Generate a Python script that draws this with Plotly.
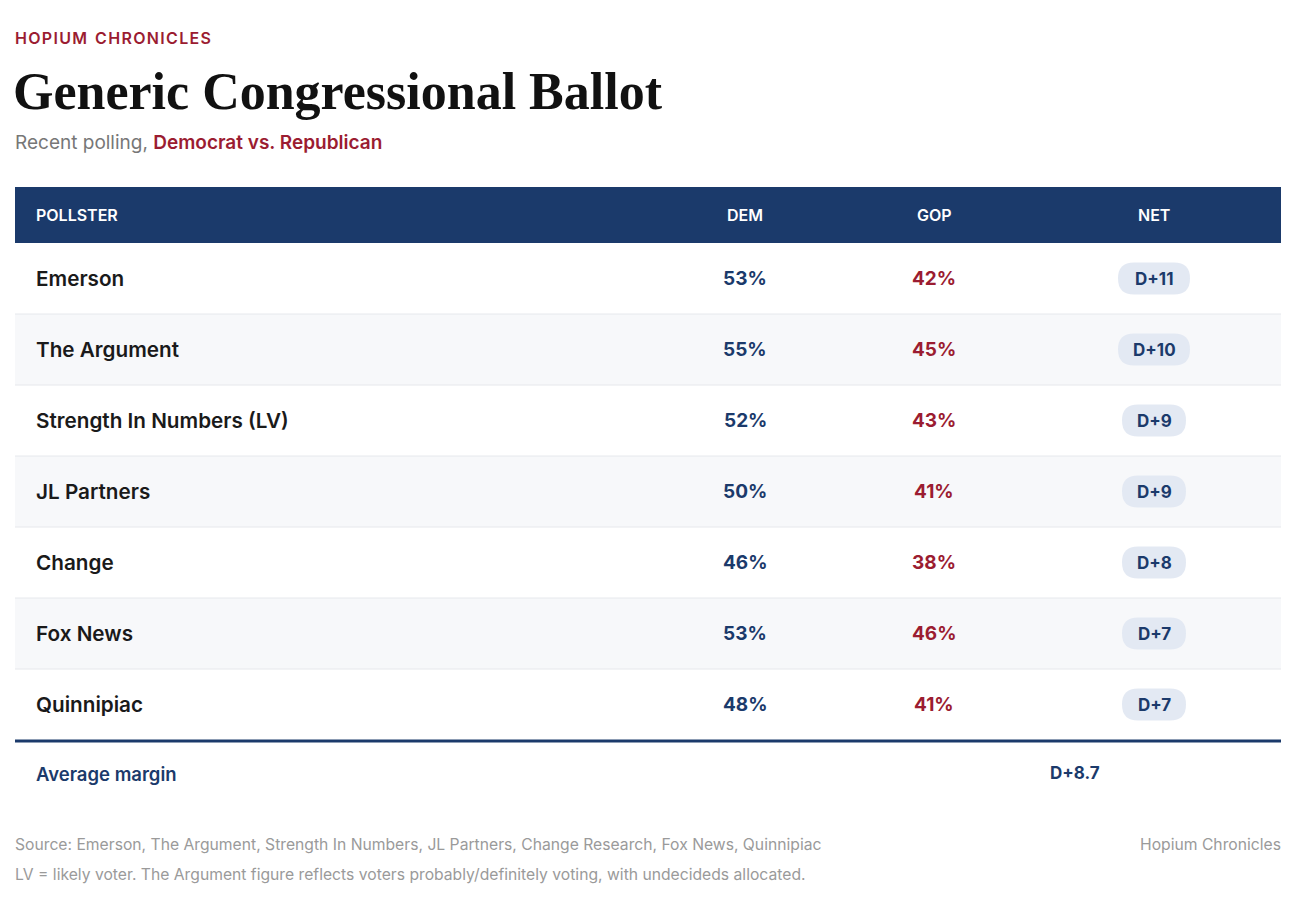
import plotly.graph_objects as go

pollsters = ["Emerson", "The Argument", "Strength In Numbers (LV)", "JL Partners",
             "Change", "Fox News", "Quinnipiac"]
dem = [53, 55, 52, 50, 46, 53, 48]
gop = [42, 45, 43, 41, 38, 46, 41]
net = ["D+11", "D+10", "D+9", "D+9", "D+8", "D+7", "D+7"]
avg_margin = "D+8.7"

NAVY = "#1b3a6b"
RED = "#9b1c31"
FONT = "Inter"

W, H = 1311, 921
OFF = 8  # page body margin
L, R = 15, 1281
HEAD_TOP, HEAD_BOT = 187, 243
ROW_H = 71
X_DEM, X_GOP, X_NET = 745, 934, 1154

fig = go.Figure()
shapes = []
ann = []

def text(x, y, s, size, color, anchor="left", family=FONT, weight=400):
    # annotations carry ~2px padding; compensate for left/right anchors
    dx = {"left": -2, "right": 2, "center": 0}[anchor]
    ann.append(dict(x=x + dx, y=y, xref="x", yref="y", text=s, showarrow=False,
                    xanchor=anchor, yanchor="middle",
                    font=dict(size=size, color=color, family=family, weight=weight)))

text(L, 38, "H O P I U M   C H R O N I C L E S".replace("   ", "\u2002").replace(" ", "\u200a"),
     16, RED, weight=600)
text(13, 91, "Generic Congressional Ballot", 52, "#111111",
     family="Liberation Serif", weight=700)
text(L, 142, f"Recent polling, <span style='color:{RED};font-weight:600'>Democrat vs. Republican</span>",
     19, "#777777")

shapes.append(dict(type="rect", xref="x", yref="y", x0=L, x1=R, y0=HEAD_TOP, y1=HEAD_BOT,
                   fillcolor=NAVY, line_width=0, layer="below"))
hy = (HEAD_TOP + HEAD_BOT) / 2
text(36, hy, "POLLSTER", 16, "white", weight=600)
text(X_DEM, hy, "DEM", 16, "white", "center", weight=600)
text(X_GOP, hy, "GOP", 16, "white", "center", weight=600)
text(X_NET, hy, "NET", 16, "white", "center", weight=600)

def pill(cx, cy, w, h):
    r = h / 2
    x0, x1, y0, y1 = cx - w / 2, cx + w / 2, cy - h / 2, cy + h / 2
    return (f"M {x0+r},{y0} L {x1-r},{y0} Q {x1},{y0} {x1},{cy} Q {x1},{y1} {x1-r},{y1} "
            f"L {x0+r},{y1} Q {x0},{y1} {x0},{cy} Q {x0},{y0} {x0+r},{y0} Z")

for i, name in enumerate(pollsters):
    y0 = HEAD_BOT + i * ROW_H
    y1 = y0 + ROW_H
    cy = (y0 + y1) / 2
    if i % 2 == 1:
        shapes.append(dict(type="rect", xref="x", yref="y", x0=L, x1=R, y0=y0, y1=y1,
                           fillcolor="#f7f8fa", line_width=0, layer="below"))
    if i < len(pollsters) - 1:
        shapes.append(dict(type="line", xref="x", yref="y", x0=L, x1=R, y0=y1, y1=y1,
                           line=dict(color="#e6e8ec", width=1)))
    text(36, cy, name, 20.7, "#1a1a1a", weight=600)
    text(X_DEM, cy, f"{dem[i]}%", 19, NAVY, "center", weight=700)
    text(X_GOP, cy, f"{gop[i]}%", 19, RED, "center", weight=700)
    pw = 40 + 8 * len(net[i])
    shapes.append(dict(type="path", xref="x", yref="y", path=pill(X_NET, cy, pw, 32),
                       fillcolor="#e3e9f3", line_width=0, layer="below"))
    text(X_NET, cy, net[i], 17, NAVY, "center", weight=700)

bottom = HEAD_BOT + len(pollsters) * ROW_H
shapes.append(dict(type="line", xref="x", yref="y", x0=L, x1=R, y0=bottom + 1, y1=bottom + 1,
                   line=dict(color=NAVY, width=3)))
text(36, 774, "Average margin", 18.5, NAVY, weight=600)
text(1075, 773, avg_margin, 17, NAVY, "center", weight=700)

text(L, 844, "Source: Emerson, The Argument, Strength In Numbers, JL Partners, Change Research, Fox News, Quinnipiac",
     15.7, "#9a9a9a")
text(R, 844, "Hopium Chronicles", 15.7, "#9a9a9a", "right")
text(L, 874, "LV = likely voter. The Argument figure reflects voters probably/definitely voting, with undecideds allocated.",
     15.7, "#9a9a9a")

fig.update_layout(
    width=W, height=H, margin=dict(l=0, r=0, t=0, b=0),
    paper_bgcolor="white", plot_bgcolor="white",
    xaxis=dict(range=[OFF, W + OFF], visible=False, fixedrange=True),
    yaxis=dict(range=[H + OFF, OFF], visible=False, fixedrange=True),
    shapes=shapes, annotations=ann, showlegend=False,
)
fig.write_html("out.html")
